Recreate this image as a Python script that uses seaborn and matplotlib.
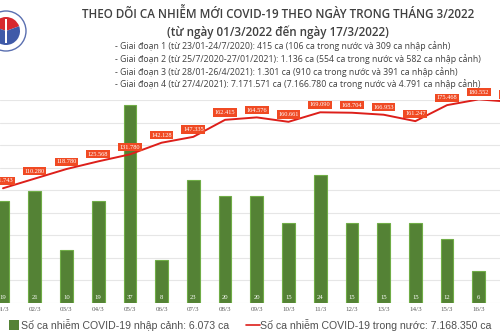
import numpy as np
import pandas as pd
import matplotlib
matplotlib.use("Agg")
import matplotlib.pyplot as plt
import seaborn as sns
from matplotlib.patches import Circle, Wedge, Rectangle
from matplotlib.lines import Line2D

dates = ["01/3", "02/3", "03/3", "04/3", "05/3", "06/3", "07/3", "08/3", "09/3",
         "10/3", "11/3", "12/3", "13/3", "14/3", "15/3", "16/3", "17/3"]
imported = [19, 21, 10, 19, 37, 8, 23, 20, 20, 15, 24, 15, 15, 15, 12, 6, np.nan]
domestic = [101743, 110280, 118780, 125568, 131780, 142128, 147335, 162415, 164576,
            160661, 169090, 168704, 166953, 161247, 175468, 180552, 178361]
title = "THEO DÕI CA NHIỄM MỚI COVID-19 THEO NGÀY TRONG THÁNG 3/2022"
subtitle = "(từ ngày 01/3/2022 đến ngày 17/3/2022)"
phases = [
    "- Giai đoạn 1 (từ 23/01-24/7/2020): 415 ca (106 ca trong nước và 309 ca nhập cảnh)",
    "- Giai đoạn 2 (từ 25/7/2020-27/01/2021): 1.136 ca (554 ca trong nước và 582 ca nhập cảnh)",
    "- Giai đoạn 3 (từ 28/01-26/4/2021): 1.301 ca (910 ca trong nước và 391 ca nhập cảnh)",
    "- Giai đoạn 4 (từ 27/4/2021): 7.171.571 ca (7.166.780 ca trong nước và 4.791 ca nhập cảnh)",
]
legend_bar = "Số ca nhiễm COVID-19 nhập cảnh: 6.073 ca"
legend_line = "Số ca nhiễm COVID-19 trong nước: 7.168.350 ca"

df = pd.DataFrame({"date": dates, "imported": imported, "domestic": domestic,
                   "pos": np.arange(len(dates))})

sns.set_theme(style="white")
plt.rcParams["font.family"] = ["Open Sans", "DejaVu Sans"]

W, H = 500, 333
fig = plt.figure(figsize=(5, 3.33), dpi=100)

BAR_C = "#548235"
LINE_C = "#DD1F1A"
LABEL_C = "#F04A23"
SERIF = ["Liberation Serif", "DejaVu Serif"]

# axes: baseline at y=303px, top at y=100px
rect = [0, 1 - 303 / H, 1, (303 - 100) / H]
ax2 = fig.add_axes(rect)          # grid axis (domestic scale)
ax = fig.add_axes(rect)           # bars + line

BAR_MAX = 180000 / 4741
scale = BAR_MAX / 180000

# grid from domestic scale
ax2.set_ylim(0, 180000)
ax2.set_xlim(-3.0 / 31.72, 497 / 31.72)
ax2.set_yticks(np.arange(0, 180001, 20000))
ax2.set_yticklabels([])
ax2.set_xticks([])
ax2.tick_params(axis="y", length=0)
ax2.grid(axis="y", color="#E6E6E6", linewidth=0.8)
for s in ax2.spines.values():
    s.set_visible(False)

sns.barplot(data=df, x="date", y="imported", ax=ax, color=BAR_C, width=0.40,
            edgecolor="#70AD47", linewidth=0.8, saturation=1)
df["domestic_scaled"] = df["domestic"] * scale
sns.lineplot(data=df, x="pos", y="domestic_scaled", ax=ax, color=LINE_C, linewidth=1.4)
ax.set_xlim(-3.0 / 31.72, 497 / 31.72)
ax.set_ylim(0, BAR_MAX)
ax.set_xlabel("")
ax.set_ylabel("")
ax.set_yticks([])
ax.patch.set_visible(False)
ax.tick_params(axis="x", length=0, pad=3, labelsize=5, labelcolor="#595959")
for lab in ax.get_xticklabels():
    lab.set_family(SERIF)
for s in ax.spines.values():
    s.set_visible(False)

for i, v in enumerate(imported):
    if not np.isnan(v):
        ax.text(i, 1.1, f"{int(v)}", ha="center", va="center", color="white",
                fontsize=4.8, family=SERIF)


def fmt(v):
    return f"{v:,}".replace(",", ".")


for i, v in enumerate(domestic):
    ax.annotate(fmt(v), (i, v * scale), xytext=(0, 5.3), textcoords="offset points",
                ha="center", va="center", fontsize=4.6, color="white", family=SERIF,
                bbox=dict(boxstyle="square,pad=0.25", fc=LABEL_C, ec="none"),
                annotation_clip=False, zorder=6)

# header text
fig.text(278 / W, 1 - 14 / H, title, ha="center", va="center", fontsize=8.4,
         fontweight="semibold", color="#404040")
fig.text(278 / W, 1 - 32 / H, subtitle, ha="center", va="center", fontsize=8.4,
         fontweight="semibold", color="#404040")
for k, line in enumerate(phases):
    fig.text(115 / W, 1 - (46.5 + 12.6 * k) / H, line, ha="left", va="center",
             fontsize=6.3, color="#404040")

# logo approximation
logo_ax = fig.add_axes([0, 1 - 55 / H, 50 / W, 50 / H])
logo_ax.set_xlim(0, 50)
logo_ax.set_ylim(0, 50)
logo_ax.axis("off")
logo_ax.add_patch(Circle((6, 24), 20, fc="white", ec="#5A6FB0", lw=1.0))
logo_ax.add_patch(Wedge((6, 24), 14, 20, 160, fc="#D7282F", ec="none"))
logo_ax.add_patch(Wedge((6, 24), 14, 160, 380, fc="#3F5AA8", ec="none"))
logo_ax.add_patch(Rectangle((5, 12), 2, 24, fc="white", ec="none"))

# legend
fig.patches.append(Rectangle((9 / W, 1 - 330 / H), 10 / W, 10 / H,
                             transform=fig.transFigure, fc=BAR_C, ec="none"))
fig.text(21 / W, 1 - 325 / H, legend_bar, ha="left", va="center", fontsize=7.6,
         color="#505050", family=["Liberation Sans", "DejaVu Sans"])
fig.lines.append(Line2D([246 / W, 260 / W], [1 - 325 / H, 1 - 325 / H],
                        transform=fig.transFigure, color=LINE_C, lw=1.2))
fig.text(260 / W, 1 - 325 / H, legend_line, ha="left", va="center", fontsize=7.6,
         color="#505050", family=["Liberation Sans", "DejaVu Sans"])

fig.savefig("out.png", dpi=100)
